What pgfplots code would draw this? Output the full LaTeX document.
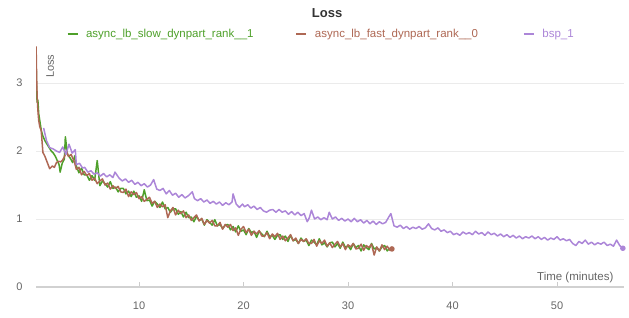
\documentclass[border=0pt]{standalone}
\usepackage{fontspec}
\setmainfont{Liberation Sans}
\usepackage{pgfplots}
\pgfplotsset{compat=1.18}
\definecolor{cgreen}{RGB}{78,160,42}
\definecolor{cbrown}{RGB}{174,104,84}
\definecolor{cpurple}{RGB}{172,134,216}
\definecolor{ctext}{RGB}{102,102,102}
\definecolor{ctitle}{RGB}{51,51,51}
\begin{document}
\begin{tikzpicture}
\path[use as bounding box] (-36bp,-31bp) rectangle (593bp,287bp);
\begin{axis}[
  scale only axis, width=588bp, height=242bp,
  at={(0,0)}, anchor=origin,
  xmin=0.14, xmax=56.41, ymin=0, ymax=3.56,
  axis line style={draw=none},
  xtick={10,20,30,40,50}, ytick={0,1,2,3},
  xtick pos=left, tick align=inside, major tick length=5bp,
  xtick style={draw=black!20, line width=1bp},
  ytick style={draw=none},
  ymajorgrids, grid style={draw=black!8, line width=0.9bp},
  extra y ticks={0}, extra y tick labels={},
  extra y tick style={ytick style={draw=none}, major grid style={draw=black!18, line width=1.8bp}},
  /pgf/number format/assume math mode=true,
  ticklabel style={font=\fontsize{11bp}{13bp}\selectfont, text=ctext},
  xticklabel style={yshift=-11bp},
  yticklabel style={xshift=-10bp},
  title={\textbf{Loss}},
  title style={at={(0.495,1.107)}, anchor=center, font=\fontsize{13bp}{15bp}\selectfont, text=ctitle},
  xlabel={Time (minutes)},
  xlabel style={at={(0.988,0.041)}, anchor=east, font=\fontsize{11.5bp}{13bp}\selectfont, text=ctext},
  ylabel={Loss},
  ylabel style={at={(0.024,0.975)}, anchor=east, rotate=0, font=\fontsize{11bp}{13bp}\selectfont, text=ctext},
  legend columns=3,
  legend image code/.code={\draw[line width=2.8bp] (0bp,0bp) -- (10bp,0bp); \path[draw=none] (10bp,0bp) -- (14bp,0bp);},
  legend style={at={(0.051,1.0455)}, anchor=west, draw=none, fill=none, inner xsep=0pt, inner ysep=0pt,
    font=\fontsize{11.5bp}{13bp}\selectfont, nodes={inner xsep=4.5bp, inner ysep=1bp},
    /tikz/every even column/.append style={column sep=37bp}},
  every axis plot/.append style={line width=1.5bp, line join=round},
]
\addplot[cgreen, no marks] coordinates {
(0.15,3.30)(0.2,2.85)(0.25,2.72)(0.32,2.75)(0.4,2.55)(0.5,2.45)(0.65,2.30)(0.8,2.22)(1.0,2.15)(1.2,2.10)(1.4,2.05)(1.6,2.00)(1.8,1.97)(2.0,1.92)(2.2,1.85)(2.35,1.80)(2.45,1.69)(2.65,1.82)(2.85,1.88)(2.95,2.21)(3.15,1.95)(3.4,1.90)(3.65,1.83)(3.85,1.93)
(4.00,1.78)(4.25,1.68)(4.50,1.75)(4.75,1.65)(5.00,1.65)(5.25,1.57)(5.50,1.64)(5.75,1.57)(6.00,1.86)(6.25,1.49)(6.50,1.56)(6.75,1.52)(7.00,1.47)(7.25,1.55)(7.50,1.45)(7.75,1.47)(8.00,1.40)(8.25,1.45)(8.50,1.45)(8.75,1.37)(9.00,1.41)(9.25,1.33)(9.50,1.41)(9.75,1.32)(10.00,1.34)(10.25,1.26)(10.50,1.43)(10.75,1.27)(11.00,1.28)(11.25,1.19)(11.50,1.26)(11.75,1.22)(12.00,1.17)(12.25,1.25)(12.50,1.15)(12.75,1.17)(13.00,1.10)(13.25,1.15)(13.50,1.15)(13.75,1.07)(14.00,1.11)(14.25,1.03)(14.50,1.10)(14.75,1.02)(15.00,1.03)(15.25,0.96)(15.50,1.04)(15.75,0.98)(16.00,1.00)(16.25,0.91)(16.50,0.99)(16.75,0.95)(17.00,0.91)(17.25,0.99)(17.50,0.90)(17.75,0.92)(18.00,0.86)(18.25,0.91)(18.50,0.92)(18.75,0.84)(19.00,0.89)(19.25,0.81)(19.50,0.90)(19.75,0.82)(20.00,0.84)(20.25,0.77)(20.50,0.86)(20.75,0.80)(21.00,0.82)(21.25,0.73)(21.50,0.82)(21.75,0.78)(22.00,0.74)(22.25,0.82)(22.50,0.74)(22.75,0.76)(23.00,0.70)(23.25,0.76)(23.50,0.77)(23.75,0.70)(24.00,0.75)(24.25,0.67)(24.50,0.76)(24.75,0.68)(25.00,0.70)(25.25,0.64)(25.50,0.72)(25.75,0.67)(26.00,0.69)(26.25,0.61)(26.50,0.69)(26.75,0.66)(27.00,0.62)(27.25,0.71)(27.50,0.62)(27.75,0.65)(28.00,0.59)(28.25,0.65)(28.50,0.66)(28.75,0.59)(29.00,0.64)(29.25,0.57)(29.50,0.66)(29.75,0.58)(30.00,0.61)(30.25,0.55)(30.50,0.64)(30.75,0.58)(31.00,0.61)(31.25,0.53)(31.50,0.62)(31.75,0.58)(32.00,0.55)(32.25,0.64)(32.50,0.56)(32.75,0.58)(33.00,0.53)(33.25,0.59)(33.50,0.61)(33.75,0.53)(34.00,0.57)
};
\addlegendentry{\textcolor{cgreen}{async\_lb\_slow\_dynpart\_rank\_\_1}}
\addplot[cbrown, no marks] coordinates {
(0.15,3.54)(0.2,3.10)(0.25,2.80)(0.32,2.60)(0.4,2.45)(0.5,2.36)(0.64,2.30)(0.8,1.98)(1.0,1.92)(1.15,1.86)(1.3,1.80)(1.45,1.74)(1.7,1.78)(1.9,1.76)(2.1,1.83)(2.3,1.85)(2.5,1.84)(2.7,1.87)(2.9,1.93)(3.05,2.00)(3.25,1.92)(3.5,1.95)(3.7,1.88)(3.85,1.82)
(4.00,1.73)(4.25,1.76)(4.50,1.65)(4.75,1.70)(5.00,1.64)(5.25,1.67)(5.50,1.57)(5.75,1.60)(6.00,1.52)(6.25,1.56)(6.50,1.59)(6.75,1.50)(7.00,1.53)(7.25,1.44)(7.50,1.49)(7.75,1.45)(8.00,1.48)(8.25,1.40)(8.50,1.39)(8.75,1.44)(9.00,1.33)(9.25,1.40)(9.50,1.36)(9.75,1.39)(10.00,1.30)(10.25,1.33)(10.50,1.26)(10.75,1.29)(11.00,1.32)(11.25,1.23)(11.50,1.26)(11.75,1.17)(12.00,1.22)(12.25,1.18)(12.50,1.21)(12.75,1.02)(13.00,1.12)(13.25,1.17)(13.50,1.06)(13.75,1.13)(14.00,1.08)(14.25,1.12)(14.50,1.02)(14.75,1.06)(15.00,0.98)(15.25,1.02)(15.50,1.06)(15.75,0.97)(16.00,1.01)(16.25,0.92)(16.50,0.98)(16.75,0.94)(17.00,0.98)(17.25,0.90)(17.50,0.90)(17.75,0.95)(18.00,0.85)(18.25,0.92)(18.50,0.88)(18.75,0.92)(19.00,0.83)(19.25,0.87)(19.50,0.76)(19.75,0.85)(20.00,0.89)(20.25,0.80)(20.50,0.85)(20.75,0.76)(21.00,0.82)(21.25,0.78)(21.50,0.83)(21.75,0.75)(22.00,0.75)(22.25,0.80)(22.50,0.71)(22.75,0.78)(23.00,0.74)(23.25,0.79)(23.50,0.70)(23.75,0.75)(24.00,0.68)(24.25,0.72)(24.50,0.77)(24.75,0.68)(25.00,0.72)(25.25,0.64)(25.50,0.70)(25.75,0.67)(26.00,0.71)(26.25,0.64)(26.50,0.64)(26.75,0.70)(27.00,0.60)(27.25,0.68)(27.50,0.64)(27.75,0.69)(28.00,0.60)(28.25,0.65)(28.50,0.58)(28.75,0.63)(29.00,0.67)(29.25,0.59)(29.50,0.64)(29.75,0.55)(30.00,0.62)(30.25,0.59)(30.50,0.64)(30.75,0.56)(31.00,0.57)(31.25,0.63)(31.50,0.54)(31.75,0.61)(32.00,0.58)(32.25,0.63)(32.50,0.47)(32.75,0.59)(33.00,0.53)(33.25,0.62)(33.50,0.55)(33.75,0.60)(34.00,0.54)(34.2,0.56)
};
\addlegendentry{\textcolor{cbrown}{async\_lb\_fast\_dynpart\_rank\_\_0}\hspace*{3bp}}
\addplot[cpurple, no marks] coordinates {
(0.87,2.34)(1.15,2.15)(1.45,2.05)(1.8,2.03)(2.1,2.00)(2.4,1.98)(2.7,2.06)(3.0,1.95)(3.3,2.10)(3.6,1.97)(3.9,2.02)(4.0,1.80)(4.3,1.82)(4.6,1.75)(4.8,1.76)(5.1,1.69)(5.4,1.71)(5.7,1.66)(6.0,1.68)(6.3,1.63)(6.6,1.67)(6.9,1.62)(7.2,1.65)(7.5,1.61)(7.7,1.69)(8.1,1.60)(8.4,1.56)(8.7,1.59)(9.0,1.54)(9.3,1.57)(9.6,1.51)(9.9,1.54)(10.2,1.49)(10.5,1.52)(10.8,1.47)(11.1,1.50)(11.4,1.58)(11.7,1.44)(12.0,1.42)(12.3,1.45)(12.6,1.37)(12.9,1.42)(13.2,1.35)(13.5,1.38)(13.8,1.32)(14.1,1.36)(14.4,1.31)(14.7,1.34)(15.1,1.40)(15.3,1.30)(15.6,1.27)(15.9,1.30)(16.2,1.25)(16.5,1.28)(16.8,1.23)(17.1,1.26)(17.4,1.22)(17.7,1.25)(18.0,1.20)(18.3,1.24)(18.6,1.21)(18.9,1.25)(19.0,1.37)(19.3,1.22)(19.6,1.17)(19.9,1.22)(20.1,1.18)(20.4,1.21)(20.7,1.16)(21.0,1.19)(21.3,1.14)(21.6,1.17)(21.9,1.12)(22.2,1.10)(22.5,1.13)(22.8,1.14)(23.1,1.10)(23.4,1.14)(23.7,1.10)(24.0,1.12)(24.3,1.07)(24.6,1.11)(24.9,1.06)(25.2,1.10)(25.5,1.05)(25.8,1.08)(26.1,0.96)(26.3,1.02)(26.5,1.13)(26.8,1.00)(27.1,1.03)(27.4,0.99)(27.7,1.02)(28.0,0.99)(28.2,1.10)(28.5,1.00)(28.8,1.03)(29.1,0.98)(29.4,1.01)(29.7,0.97)(30.0,1.00)(30.3,0.96)(30.6,1.01)(30.9,0.96)(31.2,0.99)(31.5,0.94)(31.8,0.98)(32.1,0.93)(32.4,0.97)(32.7,0.92)(33.0,0.96)(33.3,0.93)(33.6,0.95)(33.9,1.03)(34.1,1.08)(34.4,0.90)(34.7,0.88)(35.0,0.91)(35.3,0.86)(35.6,0.89)(35.9,0.85)(36.2,0.88)(36.5,0.86)(36.8,0.89)(37.1,0.85)(37.4,0.87)(37.7,0.93)(38.0,0.86)(38.3,0.84)(38.6,0.87)(38.9,0.82)(39.2,0.84)(39.5,0.80)(39.8,0.82)(40.1,0.77)(40.4,0.79)(40.7,0.76)(41.0,0.81)(41.3,0.78)(41.6,0.80)(41.9,0.77)(42.2,0.82)(42.5,0.78)(42.8,0.80)(43.1,0.76)(43.4,0.81)(43.7,0.77)(44.0,0.79)(44.3,0.75)(44.6,0.78)(44.9,0.74)(45.2,0.77)(45.5,0.73)(45.8,0.76)(46.1,0.72)(46.4,0.75)(46.7,0.71)(47.0,0.74)(47.3,0.72)(47.6,0.75)(47.9,0.71)(48.2,0.74)(48.5,0.70)(48.8,0.73)(49.1,0.69)(49.4,0.72)(49.7,0.70)(50.0,0.74)(50.3,0.69)(50.6,0.71)(50.9,0.68)(51.2,0.70)(51.5,0.64)(51.8,0.61)(52.1,0.67)(52.4,0.64)(52.7,0.69)(53.0,0.63)(53.3,0.66)(53.6,0.62)(53.9,0.65)(54.2,0.63)(54.5,0.66)(54.8,0.61)(55.1,0.63)(55.4,0.60)(55.7,0.69)(56.0,0.61)(56.3,0.57)
};
\addlegendentry{\textcolor{cpurple}{bsp\_1}}
\addplot[cbrown, only marks, mark=*, mark size=2bp, forget plot] coordinates {(34.2,0.56)};
\addplot[cpurple, only marks, mark=*, mark size=2bp, forget plot] coordinates {(56.3,0.57)};
\end{axis}
\end{tikzpicture}
\end{document}
